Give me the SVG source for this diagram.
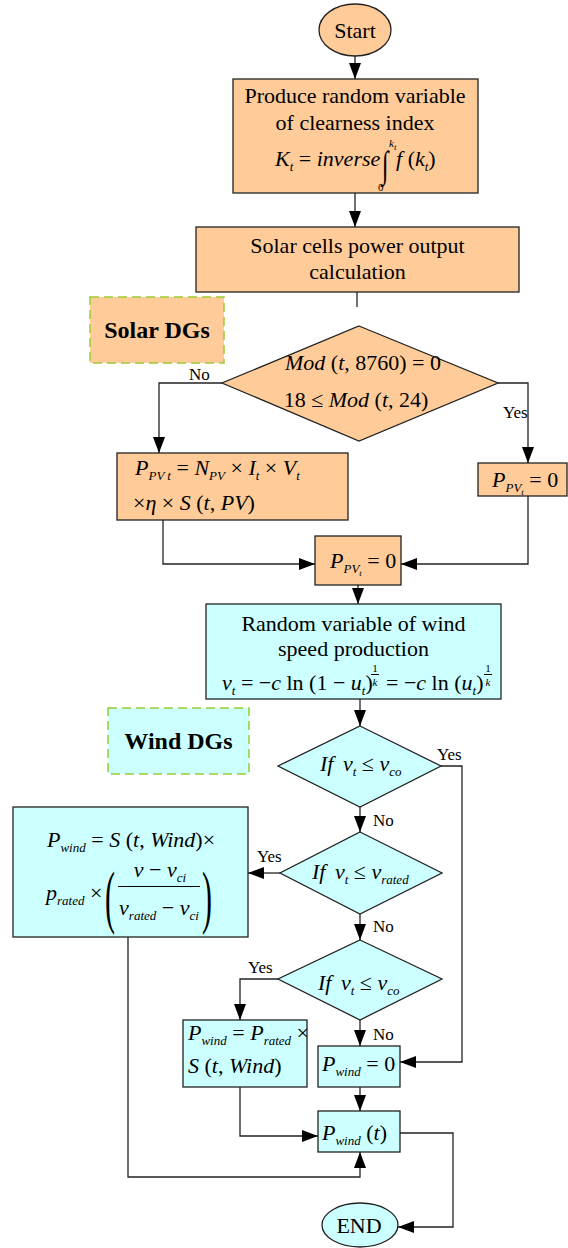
<svg xmlns="http://www.w3.org/2000/svg" width="568" height="1248" viewBox="0 0 568 1248">
<style>
text{font-family:"Liberation Serif","Times New Roman",serif;fill:#000}
.t{font-size:22px}
.c{text-anchor:middle}
.i{font-style:italic}
.s{font-size:13px;font-style:italic}
.ss{font-size:9px;font-style:italic}
.sm{font-size:13px}
.fr{font-size:11px}
.fri{font-size:11px;font-style:italic}
.lbl{font-size:17px}
.bold{font-size:24px;font-weight:bold}
.o{fill:#FFCC99;stroke:#222;stroke-width:1.3}
.b{fill:#CCFFFF;stroke:#222;stroke-width:1.3}
.dgo{fill:#FFCC99;stroke:#99CC33;stroke-width:1.5;stroke-dasharray:9 5}
.dgb{fill:#CCFFFF;stroke:#99CC33;stroke-width:1.5;stroke-dasharray:9 5}
.ln{fill:none;stroke:#222;stroke-width:1.3}
.ar{marker-end:url(#a)}
.fl{stroke:#000;stroke-width:1}
</style>
<defs>
<marker id="a" markerUnits="userSpaceOnUse" markerWidth="16" markerHeight="12" viewBox="0 0 16 12" refX="16" refY="6" orient="auto">
<path d="M0,0 L16,6 L0,12 z" fill="#000"/>
</marker>
</defs>

<g id="connectors">
<path class="ln ar" d="M355,56 V79"/>
<path class="ln ar" d="M355,193 V227"/>
<path class="ln" d="M357,292 V307"/>
<path class="ln ar" d="M222,383 H159 V453"/>
<path class="ln ar" d="M498,383 H528 V463"/>
<path class="ln ar" d="M163,520 V564 H315"/>
<path class="ln ar" d="M528,496 V564 H401"/>
<path class="ln ar" d="M358,585 V604"/>
<path class="ln ar" d="M360,699 V726"/>
<path class="ln ar" d="M441,766 H462 V1062 H400"/>
<path class="ln ar" d="M360,807 V832"/>
<path class="ln ar" d="M280,873 H248"/>
<path class="ln ar" d="M360,914 V940"/>
<path class="ln ar" d="M278,979 H240 V1020"/>
<path class="ln ar" d="M360,1020 V1046"/>
<path class="ln ar" d="M360,1087 V1111"/>
<path class="ln ar" d="M240,1087 V1136 H318"/>
<path class="ln ar" d="M128,937 V1177 H360 V1152"/>
<path class="ln ar" d="M400,1133 H453 V1227 H398"/>
<text class="lbl" x="189" y="380">No</text>
<text class="lbl" x="503" y="418">Yes</text>
<text class="lbl" x="437" y="760">Yes</text>
<text class="lbl" x="373" y="826">No</text>
<text class="lbl" x="257" y="862">Yes</text>
<text class="lbl" x="373" y="932">No</text>
<text class="lbl" x="248" y="973">Yes</text>
<text class="lbl" x="373" y="1040">No</text>
</g>

<g id="start">
<ellipse class="o" cx="355" cy="30" rx="36" ry="26"/>
<text class="t c" x="355" y="38">Start</text>
</g>

<g id="produce">
<rect class="o" x="233" y="79" width="245" height="114"/>
<text class="t c" x="355" y="103">Produce random variable</text>
<text class="t c" x="355" y="130">of clearness index</text>
<text class="t" x="275" y="166"><tspan class="i">K</tspan><tspan class="s" dy="5">t</tspan><tspan dy="-5"> = </tspan><tspan class="i">inverse</tspan></text>
<text font-size="24" transform="translate(382,177) scale(1,1.55)">∫</text>
<text class="fri" x="389" y="147">k</text><text class="ss" x="394" y="150">t</text>
<text class="fr" x="378" y="191">0</text>
<text class="t" x="396" y="166"><tspan class="i">f</tspan> (<tspan class="i">k</tspan><tspan class="s" dy="5">t</tspan><tspan dy="-5">)</tspan></text>
</g>

<g id="solar_calc">
<rect class="o" x="196" y="227" width="323" height="65"/>
<text class="t c" x="357.5" y="253">Solar cells power output</text>
<text class="t c" x="357.5" y="279">calculation</text>
</g>

<g id="solar_label">
<rect class="dgo" x="90" y="297" width="134" height="66"/>
<text class="bold c" x="157" y="338">Solar DGs</text>
</g>

<g id="mod_check">
<polygon class="o" points="359,326 498,383 359,441 222,383"/>
<text class="t c" x="363" y="370"><tspan class="i">Mod</tspan> (<tspan class="i">t</tspan>, 8760) = 0</text>
<text class="t c" x="356" y="407">18 ≤ <tspan class="i">Mod</tspan> (<tspan class="i">t</tspan>, 24)</text>
</g>

<g id="pv_formula">
<rect class="o" x="117" y="453" width="231" height="67"/>
<text class="t" x="135" y="475"><tspan class="i">P</tspan><tspan class="s" dy="5">PV t</tspan><tspan dy="-5"> = </tspan><tspan class="i">N</tspan><tspan class="s" dy="5">PV</tspan><tspan dy="-5"> × </tspan><tspan class="i">I</tspan><tspan class="s" dy="5">t</tspan><tspan dy="-5"> × </tspan><tspan class="i">V</tspan><tspan class="s" dy="5">t</tspan></text>
<text class="t" x="133" y="510">×<tspan class="i">η</tspan> × <tspan class="i">S</tspan> (<tspan class="i">t</tspan>, <tspan class="i">PV</tspan>)</text>
</g>

<g id="pv_zero_right">
<rect class="o" x="478" y="463" width="89" height="33"/>
<text class="t" x="492" y="487"><tspan class="i">P</tspan><tspan class="s" dy="5">PV</tspan><tspan class="ss" dy="3">t</tspan><tspan dy="-8"> = 0</tspan></text>
</g>

<g id="pv_zero">
<rect class="o" x="315" y="536" width="86" height="49"/>
<text class="t" x="330" y="568"><tspan class="i">P</tspan><tspan class="s" dy="5">PV</tspan><tspan class="ss" dy="3">t</tspan><tspan dy="-8"> = 0</tspan></text>
</g>

<g id="wind_random">
<rect class="b" x="206" y="604" width="295" height="95"/>
<text class="t c" x="353.5" y="631">Random variable of wind</text>
<text class="t c" x="353.5" y="656">speed production</text>
<text class="t" x="222" y="690"><tspan class="i">v</tspan><tspan class="s" dy="5">t</tspan><tspan dy="-5"> = −</tspan><tspan class="i">c</tspan> ln (1 − <tspan class="i">u</tspan><tspan class="s" dy="5">t</tspan><tspan dy="-5">)</tspan></text>
<text class="fr c" x="375" y="672">1</text>
<line class="fl" x1="371" y1="674.5" x2="379" y2="674.5"/>
<text class="fri c" x="375" y="686">k</text>
<text class="t" x="386" y="690">= −<tspan class="i">c</tspan> ln (<tspan class="i">u</tspan><tspan class="s" dy="5">t</tspan><tspan dy="-5">)</tspan></text>
<text class="fr c" x="488" y="672">1</text>
<line class="fl" x1="484" y1="674.5" x2="492" y2="674.5"/>
<text class="fri c" x="488" y="686">k</text>
</g>

<g id="wind_label">
<rect class="dgb" x="108" y="708" width="141" height="66"/>
<text class="bold c" x="178.5" y="749">Wind DGs</text>
</g>

<g id="check_co1">
<polygon class="b" points="360,726 441,766 360,807 278,766"/>
<text class="t" x="320" y="771"><tspan class="i">If</tspan> <tspan class="i" dx="4">v</tspan><tspan class="s" dy="5">t</tspan><tspan dy="-5"> ≤ </tspan><tspan class="i">v</tspan><tspan class="s" dy="5">co</tspan></text>
</g>

<g id="check_rated">
<polygon class="b" points="360,832 442,873 360,914 280,873"/>
<text class="t" x="312" y="879"><tspan class="i">If</tspan> <tspan class="i" dx="4">v</tspan><tspan class="s" dy="5">t</tspan><tspan dy="-5"> ≤ </tspan><tspan class="i">v</tspan><tspan class="s" dy="5">rated</tspan></text>
</g>

<g id="check_co2">
<polygon class="b" points="360,940 442,979 360,1020 278,979"/>
<text class="t" x="318" y="990"><tspan class="i">If</tspan> <tspan class="i" dx="4">v</tspan><tspan class="s" dy="5">t</tspan><tspan dy="-5"> ≤ </tspan><tspan class="i">v</tspan><tspan class="s" dy="5">co</tspan></text>
</g>

<g id="wind_linear">
<rect class="b" x="13" y="807" width="235" height="130"/>
<text class="t" x="47" y="847"><tspan class="i">P</tspan><tspan class="s" dy="5">wind</tspan><tspan dy="-5"> = </tspan><tspan class="i">S</tspan> (<tspan class="i">t</tspan>, <tspan class="i">Wind</tspan>)×</text>
<text class="t" x="46" y="900"><tspan class="i">p</tspan><tspan class="s" dy="5">rated</tspan><tspan dy="-5"> ×</tspan></text>
<text font-size="30" transform="translate(105,920) scale(1,2.3)">(</text>
<text font-size="30" transform="translate(202,920) scale(1,2.3)">)</text>
<text class="t c" x="160" y="877"><tspan class="i">v</tspan> − <tspan class="i">v</tspan><tspan class="s" dy="5">ci</tspan></text>
<line class="fl" x1="118" y1="886.5" x2="200" y2="886.5"/>
<text class="t c" x="159" y="915"><tspan class="i">v</tspan><tspan class="s" dy="5">rated</tspan><tspan dy="-5"> − </tspan><tspan class="i">v</tspan><tspan class="s" dy="5">ci</tspan></text>
</g>

<g id="wind_rated">
<rect class="b" x="183" y="1020" width="124" height="67"/>
<text class="t" x="188" y="1040"><tspan class="i">P</tspan><tspan class="s" dy="5">wind</tspan><tspan dy="-5"> = </tspan><tspan class="i">P</tspan><tspan class="s" dy="5">rated</tspan><tspan dy="-5"> ×</tspan></text>
<text class="t" x="188" y="1073"><tspan class="i">S</tspan> (<tspan class="i">t</tspan>, <tspan class="i">Wind</tspan>)</text>
</g>

<g id="wind_zero">
<rect class="b" x="318" y="1046" width="82" height="41"/>
<text class="t" x="322" y="1071"><tspan class="i">P</tspan><tspan class="s" dy="5">wind</tspan><tspan dy="-5"> = 0</tspan></text>
</g>

<g id="wind_t">
<rect class="b" x="318" y="1111" width="82" height="41"/>
<text class="t" x="322" y="1140"><tspan class="i">P</tspan><tspan class="s" dy="5">wind</tspan><tspan dy="-5"> (</tspan><tspan class="i">t</tspan>)</text>
</g>

<g id="end">
<ellipse class="b" cx="360" cy="1225" rx="38" ry="22"/>
<text class="t c" x="359" y="1233">END</text>
</g>
</svg>
